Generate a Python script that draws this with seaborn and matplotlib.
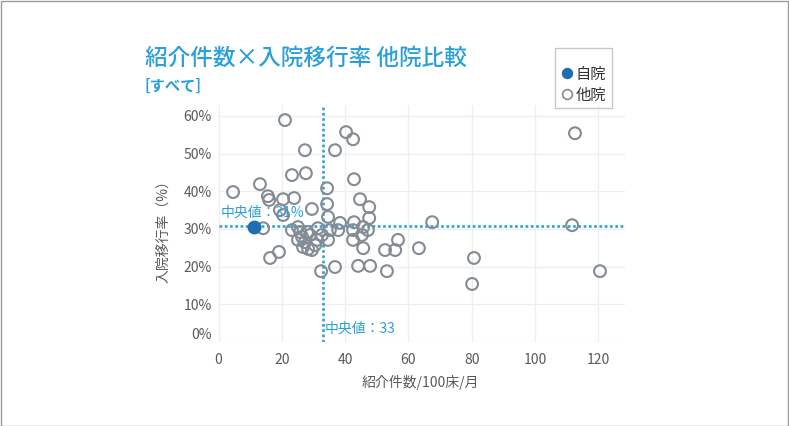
import numpy as np
import pandas as pd
import matplotlib
matplotlib.use("Agg")
import matplotlib.pyplot as plt
import seaborn as sns
from matplotlib.lines import Line2D
from matplotlib.patches import Rectangle

# ---- data ----
others_x = [4.6, 13.1, 21.0, 27.3, 23.2, 27.6, 36.8, 40.3, 42.5, 42.8, 34.3, 44.7, 47.6, 47.6,
            15.6, 16.0, 20.4, 23.9, 34.3, 29.5, 20.4, 34.6, 42.8, 14.1, 25.1, 28.0, 26.4, 27.3,
            25.1, 26.7, 28.3, 31.1, 32.7, 34.6, 35.2, 37.8, 38.4, 42.5, 45.3, 45.7, 47.2, 52.6,
            55.8, 56.7, 16.3, 19.1, 32.4, 36.8, 44.1, 47.9, 53.2, 63.3, 67.5, 80.7, 80.1, 111.7,
            120.5, 112.6, 45.7, 19.4, 28.9, 30.5, 25.8, 31.4, 29.5, 23.2, 42.5]
others_y = [39.8, 41.9, 58.9, 50.9, 44.3, 44.8, 50.9, 55.7, 53.8, 43.2, 40.8, 37.9, 35.8, 32.9,
            38.7, 37.7, 37.9, 38.2, 36.6, 35.3, 33.7, 33.2, 31.8, 30.2, 30.5, 29.2, 27.9, 26.5,
            27.1, 25.2, 24.7, 27.1, 28.4, 27.1, 29.7, 29.7, 31.6, 27.1, 28.4, 24.9, 29.7, 24.4,
            24.4, 27.1, 22.3, 23.9, 18.8, 19.9, 20.2, 20.2, 18.8, 24.9, 31.8, 22.3, 15.4, 31.0,
            18.8, 55.4, 30.5, 35.0, 28.4, 25.7, 29.2, 30.2, 24.4, 29.7, 29.7]
self_x = [11.2]
self_y = [30.5]
median_x = 33
median_y = 30.7
median_x_label = "中央値：33"
median_y_label = "中央値：31%"
x_ticks = [0, 20, 40, 60, 80, 100, 120]
y_ticks = [0, 10, 20, 30, 40, 50, 60]
y_tick_labels = ["0%", "10%", "20%", "30%", "40%", "50%", "60%"]
legend_labels = ["自院", "他院"]

df_o = pd.DataFrame({"x": others_x, "y": others_y})
df_s = pd.DataFrame({"x": self_x, "y": self_y})

sns.set_theme(style="white")
plt.rcParams["font.family"] = ["Noto Sans CJK JP", "DejaVu Sans"]

W, H = 789, 426
fig = plt.figure(figsize=(W / 100, H / 100), dpi=100)
ax = fig.add_axes([218.5 / W, 1 - 342 / H, (625 - 218.5) / W, (342 - 105) / H])

BLUE_T = "#2a9fd8"
BLUE_D = "#1f6eb0"
GRAY_E = "#838b94"
TXT = "#595959"

ax.set_xlim(0, 128.4)
ax.set_ylim(0, 62.9)
ax.set_xticks(x_ticks)
ax.set_yticks(y_ticks)
ax.set_yticklabels(y_tick_labels)
ax.grid(True, color="#eeeeee", lw=0.9)
ax.set_axisbelow(True)
for s in ax.spines.values():
    s.set_visible(False)
ax.tick_params(axis="both", length=0, labelsize=10, labelcolor=TXT)
ax.tick_params(axis="x", pad=8)
ax.tick_params(axis="y", pad=5)
ylab = ax.get_yticklabels()
ylab[0].set_va("bottom")

ax.axhline(median_y, color=BLUE_T, lw=1.9, ls=(0, (1, 1)), zorder=1)
ax.axvline(median_x, color=BLUE_T, lw=1.9, ls=(0, (1, 1)), zorder=1)

sns.scatterplot(data=df_o, x="x", y="y", ax=ax, s=72, facecolor="none",
                edgecolor=GRAY_E, linewidth=1.5, zorder=3, clip_on=False)
sns.scatterplot(data=df_s, x="x", y="y", ax=ax, s=72, color=BLUE_D,
                edgecolor=BLUE_D, linewidth=1.5, zorder=4, clip_on=False)
ax.set_xlabel("")
ax.set_ylabel("")

ax.text(0.8, 34.2, median_y_label, color=BLUE_T, fontsize=10, va="center", ha="left", zorder=5)
ax.text(33.6, 3.4, median_x_label, color=BLUE_T, fontsize=10, va="center", ha="left", zorder=5)

fig.text(145 / W, 1 - 58 / H, "紹介件数×入院移行率 他院比較", fontsize=16.3,
         color=BLUE_T, va="center", ha="left", weight="medium")
fig.text(145 / W, 1 - 86 / H, "[すべて]", fontsize=11, color=BLUE_T,
         va="center", ha="left", weight="bold")
fig.text(163 / W, 1 - 228 / H, "入院移行率（%）", fontsize=10, color=TXT,
         rotation=90, va="center", ha="center")
fig.text(420 / W, 1 - 382 / H, "紹介件数/100床/月", fontsize=10, color=TXT,
         va="center", ha="center")

handles = [
    Line2D([], [], marker="o", ls="none", markerfacecolor=BLUE_D, markeredgecolor=BLUE_D,
           markersize=7, markeredgewidth=1.2),
    Line2D([], [], marker="o", ls="none", markerfacecolor="white", markeredgecolor=GRAY_E,
           markersize=7, markeredgewidth=1.2),
]
fig.legend(handles, legend_labels, loc="upper left", bbox_to_anchor=(551 / W, 1 - 55 / H),
           frameon=False, fontsize=11, handlelength=0.7, handletextpad=0.2,
           labelspacing=0.25, borderpad=0.2, labelcolor="#333333")
fig.patches.append(Rectangle((555 / W, 1 - 108 / H), 57 / W, 60 / H, transform=fig.transFigure,
                             fill=False, edgecolor="#c8c8c8", lw=1))
fig.patches.append(Rectangle((0.5 / W, 0.5 / H), (W - 1.5) / W, (H - 1.5) / H,
                             transform=fig.transFigure, fill=False, edgecolor="#9a9a9a", lw=1))

fig.savefig("out.png", dpi=100)
